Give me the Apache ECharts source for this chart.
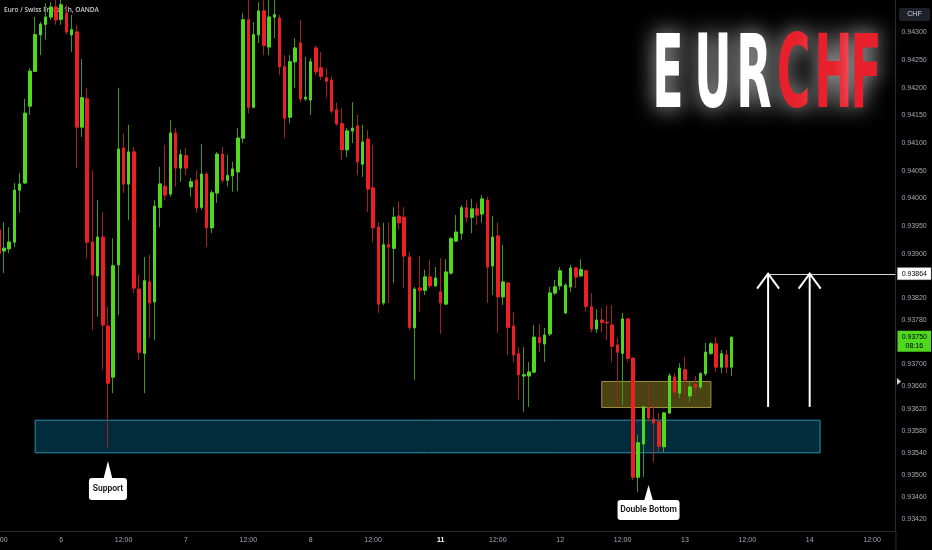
<!DOCTYPE html>
<html><head><meta charset="utf-8">
<script src="https://cdn.jsdelivr.net/npm/echarts@6/dist/echarts.min.js"></script>
<style>html,body{margin:0;padding:0;background:#000;}#c{width:932px;height:550px;}</style>
</head><body><div id="c"></div>
<script>
// ---- data (EUR/CHF, 1h candles) ----
const openP = [0.93943,0.93905,0.93909,0.93921,0.94015,0.94028,0.94167,0.94230,0.94296,0.94315,
0.94328,0.94346,0.94324,0.94335,0.94296,0.94301,0.94129,0.94180,0.93921,0.93860,
0.93930,0.93769,0.93677,0.93880,0.94091,0.94026,0.94084,0.93836,0.93720,0.93849,
0.93813,0.93984,0.94022,0.94008,0.94118,0.94055,0.94077,0.94021,0.94033,0.93984,
0.94044,0.93947,0.94010,0.94080,0.94033,0.94041,0.94048,0.94109,0.94323,0.94165,
0.94296,0.94339,0.94274,0.94328,0.94326,0.94238,0.94147,0.94247,0.94281,0.94180,
0.94178,0.94272,0.94236,0.94218,0.94214,0.94160,0.94135,0.94088,0.94122,0.94131,
0.94062,0.94107,0.94019,0.93948,0.93811,0.93916,0.93910,0.93968,0.93966,0.93894,
0.93766,0.93838,0.93834,0.93858,0.93842,0.93831,0.93809,0.93865,0.93923,0.93937,
0.93983,0.93966,0.93981,0.93972,0.93997,0.93878,0.93932,0.93822,0.93847,0.93769,
0.93719,0.93679,0.93679,0.93686,0.93749,0.93737,0.93755,0.93829,0.93842,0.93793,
0.93840,0.93874,0.93860,0.93869,0.93804,0.93764,0.93780,0.93776,0.93771,0.93735,
0.93720,0.93782,0.93711,0.93496,0.93556,0.93621,0.93601,0.93596,0.93551,0.93612,
0.93677,0.93648,0.93690,0.93643,0.93663,0.93659,0.93683,0.93720,0.93737,0.93695,
0.93717,0.93695];
const closeP = [0.93901,0.93910,0.93921,0.94015,0.94026,0.94154,0.94230,0.94296,0.94315,0.94328,
0.94346,0.94323,0.94350,0.94301,0.94305,0.94129,0.94182,0.93921,0.93862,0.93930,
0.93771,0.93666,0.93878,0.94089,0.94026,0.94084,0.93838,0.93722,0.93851,0.93811,
0.93986,0.94026,0.94006,0.94118,0.94055,0.94079,0.94055,0.94030,0.93983,0.94044,
0.93947,0.94010,0.94080,0.94033,0.94041,0.94053,0.94109,0.94323,0.94165,0.94296,
0.94339,0.94277,0.94328,0.94332,0.94238,0.94145,0.94247,0.94272,0.94180,0.94183,
0.94247,0.94229,0.94221,0.94212,0.94158,0.94135,0.94088,0.94122,0.94127,0.94066,
0.94102,0.94017,0.93947,0.93809,0.93916,0.93912,0.93966,0.93956,0.93896,0.93767,
0.93836,0.93834,0.93858,0.93842,0.93856,0.93811,0.93867,0.93927,0.93939,0.93983,
0.93966,0.93981,0.93970,0.93999,0.93876,0.93930,0.93822,0.93849,0.93767,0.93717,
0.93681,0.93681,0.93686,0.93749,0.93739,0.93753,0.93829,0.93840,0.93869,0.93843,
0.93874,0.93858,0.93871,0.93805,0.93764,0.93780,0.93776,0.93775,0.93733,0.93722,
0.93782,0.93711,0.93496,0.93558,0.93623,0.93603,0.93594,0.93552,0.93612,0.93679,
0.93650,0.93693,0.93672,0.93659,0.93659,0.93683,0.93722,0.93737,0.93695,0.93719,
0.93695,0.93749];
const lowP = [0.93892,0.93865,0.93901,0.93912,0.93974,0.94026,0.94151,0.94229,0.94259,0.94287,
0.94323,0.94314,0.94314,0.94296,0.94265,0.94055,0.94111,0.93892,0.93762,0.93786,
0.93690,0.93549,0.93648,0.93789,0.94010,0.93961,0.93829,0.93708,0.93648,0.93748,
0.93744,0.93948,0.93997,0.94003,0.94021,0.94030,0.94042,0.94003,0.93974,0.93979,
0.93912,0.93937,0.93992,0.94028,0.94021,0.94012,0.94013,0.94100,0.94154,0.94163,
0.94281,0.94259,0.94259,0.94290,0.94223,0.94109,0.94136,0.94200,0.94173,0.94176,
0.94151,0.94223,0.94214,0.94182,0.94154,0.94131,0.94070,0.94075,0.94100,0.94042,
0.94039,0.93975,0.93921,0.93793,0.93807,0.93811,0.93847,0.93943,0.93838,0.93762,
0.93672,0.93795,0.93825,0.93838,0.93840,0.93755,0.93807,0.93862,0.93921,0.93925,
0.93956,0.93937,0.93952,0.93956,0.93811,0.93825,0.93757,0.93807,0.93717,0.93704,
0.93636,0.93614,0.93623,0.93684,0.93722,0.93704,0.93751,0.93825,0.93834,0.93791,
0.93831,0.93838,0.93858,0.93795,0.93758,0.93757,0.93758,0.93744,0.93704,0.93623,
0.93626,0.93704,0.93491,0.93469,0.93496,0.93596,0.93523,0.93541,0.93541,0.93610,
0.93641,0.93639,0.93645,0.93632,0.93645,0.93655,0.93679,0.93717,0.93686,0.93684,
0.93684,0.93679];
const highP = [0.93952,0.93957,0.93948,0.94028,0.94046,0.94180,0.94236,0.94328,0.94319,0.94353,
0.94355,0.94359,0.94362,0.94350,0.94332,0.94314,0.94252,0.94200,0.94051,0.93997,
0.93975,0.93804,0.93928,0.94200,0.94117,0.94133,0.94093,0.93862,0.93894,0.93898,
0.93997,0.94057,0.94097,0.94142,0.94127,0.94088,0.94091,0.94037,0.94051,0.94098,
0.94048,0.94015,0.94084,0.94093,0.94079,0.94066,0.94127,0.94335,0.94365,0.94319,
0.94355,0.94362,0.94360,0.94360,0.94332,0.94259,0.94259,0.94290,0.94323,0.94256,
0.94254,0.94277,0.94265,0.94236,0.94221,0.94173,0.94163,0.94127,0.94174,0.94151,
0.94133,0.94124,0.94097,0.93957,0.93956,0.93956,0.93984,0.93994,0.93984,0.93903,
0.93840,0.93896,0.93871,0.93889,0.93876,0.93892,0.93890,0.93930,0.93970,0.93988,
0.93997,0.93999,0.93992,0.94006,0.94003,0.93968,0.93956,0.93916,0.93849,0.93795,
0.93731,0.93731,0.93704,0.93771,0.93773,0.93766,0.93840,0.93853,0.93876,0.93847,
0.93880,0.93876,0.93890,0.93871,0.93829,0.93800,0.93802,0.93807,0.93807,0.93748,
0.93793,0.93784,0.93713,0.93572,0.93625,0.93668,0.93630,0.93612,0.93614,0.93684,
0.93684,0.93702,0.93713,0.93668,0.93679,0.93686,0.93739,0.93740,0.93749,0.93726,
0.93726,0.93749];

const slotCount = 173;                 // hourly slots shown (incl. empty future area)
const slots = Array.from({length: slotCount}, (_, i) => String(i));
const xTickLabels = [[0,'12:00'],[12,'6'],[24,'12:00'],[36,'7'],[48,'12:00'],[60,'8'],[72,'12:00'],
  [85,'11'],[96,'12:00'],[108,'12'],[120,'12:00'],[132,'13'],[144,'12:00'],[156,'14'],[168,'12:00']];
const yTickValues = [0.943,0.9425,0.942,0.9415,0.941,0.9405,0.94,0.9395,0.939,
  0.9382,0.9378,0.937,0.9366,0.9362,0.9358,0.9354,0.935,0.9346,0.9342];
const yRange = [0.933986, 0.943588];

const supportZone = {from: 7, to: 158, top: 0.93599, bottom: 0.93540};
const retestZone  = {from: 116, to: 137, top: 0.93669, bottom: 0.93622};
const targetLevel = 0.93864;
const arrowSlots = [148, 156];
const arrowBase = 0.93623;
const lastPrice = 0.93750, countdown = '08:16';
const notes = [
  {text: 'Support', slot: 21, price: 0.93525},
  {text: 'Double Bottom', slot: 125, price: 0.93482}
];

// ---- chart ----
const labelMap = {};
xTickLabels.forEach(([i, t]) => { labelMap[i] = t; });
const candles = openP.map((o, i) => [o, closeP[i], lowP[i], highP[i]]);
const bodies = openP.map((o, i) => [o, closeP[i], Math.min(o, closeP[i]), Math.max(o, closeP[i])]);

const GREEN = '#4fd81c', RED = '#ee1f23';
const chart = echarts.init(document.getElementById('c'));
chart.setOption({
  animation: false,
  backgroundColor: '#000000',
  grid: {left: -3.8, right: 36.55, top: 0, bottom: 19, containLabel: false, outerBoundsMode: 'none'},
  xAxis: {
    type: 'category', data: slots, boundaryGap: true,
    axisLine: {show: true, lineStyle: {color: '#2b2b2b', width: 1}},
    axisTick: {show: false},
    splitLine: {show: false},
    axisLabel: {
      interval: (i) => labelMap[i] !== undefined,
      formatter: (v, i) => labelMap[i] === '11' ? '{b|11}' : (labelMap[i] || ''),
      color: '#a7aab2', fontSize: 7, fontFamily: 'Liberation Sans', margin: 6, hideOverlap: false,
      rich: {b: {color: '#ffffff', fontWeight: 'bold', fontSize: 7, fontFamily: 'Liberation Sans'}}
    }
  },
  yAxis: {
    type: 'value', position: 'right', min: yRange[0], max: yRange[1],
    axisLine: {show: true, lineStyle: {color: '#2b2b2b'}},
    axisTick: {show: false},
    splitLine: {show: false},
    axisLabel: {
      customValues: yTickValues, formatter: (v) => v.toFixed(5),
      color: '#a7aab2', fontSize: 7, fontFamily: 'Liberation Sans', margin: 6
    }
  },
  series: [
    {
      type: 'line', data: [], z: 1, silent: true,
      markArea: {
        silent: true,
        data: [
          [{xAxis: String(supportZone.from), yAxis: supportZone.top,
            itemStyle: {color: '#022c3b', borderColor: '#2a92b0', borderWidth: 1}},
           {xAxis: String(supportZone.to), yAxis: supportZone.bottom}],
          [{xAxis: String(retestZone.from), yAxis: retestZone.top,
            itemStyle: {color: '#4a4312', borderColor: '#9d9141', borderWidth: 1}},
           {xAxis: String(retestZone.to), yAxis: retestZone.bottom}]
        ]
      }
    },
    {
      type: 'candlestick', data: candles, z: 2, silent: true, barWidth: 3,
      itemStyle: {color: '#3c9a22', color0: '#a52020', borderColor: '#3c9a22', borderColor0: '#a52020', borderWidth: 1}
    },
    {
      type: 'candlestick', data: bodies, z: 3, silent: true, barWidth: 3,
      itemStyle: {color: GREEN, color0: RED, borderColor: GREEN, borderColor0: RED, borderColorDoji: GREEN, borderWidth: 1}
    }
  ]
});

// ---- annotations positioned through the chart's own scales ----
const px = (slot, v) => chart.convertToPixel({xAxisIndex: 0, yAxisIndex: 0}, [slot, v]);
const bw = px(1, lastPrice)[0] - px(0, lastPrice)[0];
const plotRight = px(slotCount - 1, lastPrice)[0] + bw / 2;
const g = [];

g.push({type: 'text', x: 4, y: 10.5, z: 0, style: {text: 'Euro / Swiss Franc, 1h, OANDA', fill: '#c9ccd3',
  fontSize: 6.5, fontWeight: 600, fontFamily: 'Open Sans', verticalAlign: 'middle'}});

const logo = [['E', 668, '#ffffff'], ['U', 713, '#ffffff'], ['R', 754, '#ffffff'],
              ['C', 793.5, '#e8202b'], ['H', 833.5, '#e8202b'], ['F', 866, '#e8202b']];
logo.forEach(([ch, cx, col]) => g.push({
  type: 'text', x: cx, y: 80, scaleX: 0.5, z: 20,
  style: {text: ch, fill: col, fontSize: 102, fontWeight: 'bold',
    fontFamily: "'Liberation Sans Narrow', 'DejaVu Sans Condensed', sans-serif",
    align: 'center', verticalAlign: 'middle',
    textShadowColor: 'rgba(255,255,255,0.8)', textShadowBlur: 22}
}));

// target line + arrows
const t0 = px(arrowSlots[0], targetLevel);
g.push({type: 'line', z: 15, shape: {x1: t0[0], y1: Math.round(t0[1]) + 0.5, x2: plotRight, y2: Math.round(t0[1]) + 0.5},
  style: {stroke: '#d6d6d6', lineWidth: 1}});
arrowSlots.forEach(s => {
  const b = px(s, arrowBase), t = px(s, targetLevel);
  g.push({type: 'line', z: 16, shape: {x1: t[0], y1: b[1], x2: t[0], y2: t[1]}, style: {stroke: '#ffffff', lineWidth: 2}});
  g.push({type: 'polyline', z: 16, shape: {points: [[t[0] - 11, t[1] + 15], [t[0], t[1]], [t[0] + 11, t[1] + 15]]},
    style: {stroke: '#ffffff', lineWidth: 2, fill: null}});
});

// callouts
notes.forEach((n, k) => {
  const p = px(n.slot, n.price);
  const w = k === 0 ? 38 : 62, h = k === 0 ? 22 : 20, gap = k === 0 ? 17 : 15;
  const top = p[1] + gap;
  g.push({type: 'polygon', z: 16, shape: {points: [[p[0], p[1]], [p[0] - 4.5, top + 1], [p[0] + 4.5, top + 1]]}, style: {fill: '#ffffff'}});
  g.push({type: 'rect', z: 16, shape: {x: p[0] - w / 2, y: top, width: w, height: h, r: 3}, style: {fill: '#ffffff'}});
  g.push({type: 'text', z: 17, x: p[0], y: top + h / 2, style: {text: n.text, fill: '#111111', fontSize: 8.5,
    fontWeight: 600, fontFamily: 'Roboto', align: 'center', verticalAlign: 'middle'}});
});

// right price scale decorations
g.push({type: 'line', z: 5, shape: {x1: plotRight + 0.5, y1: 531, x2: plotRight + 0.5, y2: 550}, style: {stroke: '#2b2b2b', lineWidth: 1}});
g.push({type: 'rect', z: 18, shape: {x: 899, y: 8, width: 31, height: 13, r: 2}, style: {fill: '#1e2129'}});
g.push({type: 'text', z: 19, x: 914.5, y: 14.5, style: {text: 'CHF', fill: '#d1d4dc', fontSize: 7, fontFamily: 'Liberation Sans', align: 'center', verticalAlign: 'middle'}});

const ty = px(0, targetLevel)[1];
g.push({type: 'rect', z: 18, shape: {x: 897.5, y: ty - 6, width: 33.5, height: 12}, style: {fill: '#ffffff', stroke: '#bbbbbb', lineWidth: 0.5}});
g.push({type: 'text', z: 19, x: 914.3, y: ty, style: {text: targetLevel.toFixed(5), fill: '#000000', fontSize: 7, fontFamily: 'Liberation Sans', align: 'center', verticalAlign: 'middle'}});

const ly = px(0, lastPrice)[1];
g.push({type: 'rect', z: 18, shape: {x: 897.5, y: ly - 6, width: 33.5, height: 21}, style: {fill: '#4fd81c'}});
g.push({type: 'text', z: 19, x: 914.3, y: ly, style: {text: lastPrice.toFixed(5), fill: '#000000', fontSize: 7, fontFamily: 'Liberation Sans', align: 'center', verticalAlign: 'middle'}});
g.push({type: 'text', z: 19, x: 914.3, y: ly + 9, style: {text: countdown, fill: '#000000', fontSize: 7, fontFamily: 'Liberation Sans', align: 'center', verticalAlign: 'middle'}});
g.push({type: 'polygon', z: 18, shape: {points: [[897, 378], [901, 381.5], [897, 385]]}, style: {fill: '#d0d0d0'}});

chart.setOption({graphic: g});
</script>
</body></html>
